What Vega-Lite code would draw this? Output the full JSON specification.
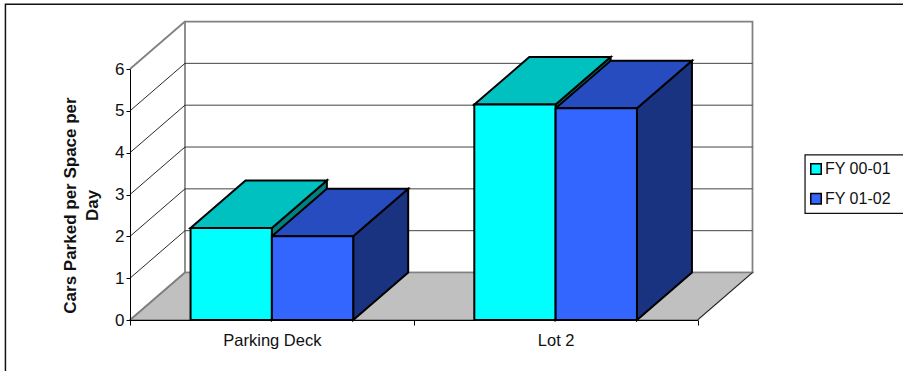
{
  "$schema": "https://vega.github.io/schema/vega-lite/v6.json",
  "width": 567.5,
  "height": 251,
  "padding": {"left": 130, "top": 69, "right": 205, "bottom": 51},
  "autosize": {"type": "none"},
  "background": "white",
  "config": {
    "view": {"stroke": null},
    "font": "Liberation Sans",
    "text": {"font": "Liberation Sans"}
  },
  "params": [
    {"name": "dx", "value": 0.1938},
    {"name": "dy", "value": 1.135}
  ],
  "datasets": {
    "bars": [
      {"category": "Parking Deck", "series": "FY 00-01", "value": 2.2},
      {"category": "Parking Deck", "series": "FY 01-02", "value": 2.0},
      {"category": "Lot 2", "series": "FY 00-01", "value": 5.15},
      {"category": "Lot 2", "series": "FY 01-02", "value": 5.06}
    ],
    "levels": [
      {"level": 0}, {"level": 1}, {"level": 2}, {"level": 3},
      {"level": 4}, {"level": 5}, {"level": 6}
    ],
    "depth": [{"t": 0}, {"t": 1}],
    "one": [{"id": 1}]
  },
  "data": {"name": "bars"},
  "transform": [
    {"calculate": "(datum.category === 'Lot 2' ? 1 : 0) + (datum.series === 'FY 00-01' ? 0.2134 : 0.5)", "as": "x0"},
    {"calculate": "datum.x0 + 0.2866", "as": "x1"},
    {"calculate": "datum.category + datum.series", "as": "bar"},
    {"calculate": "[0, 1]", "as": "t"},
    {"flatten": ["t"]},
    {"calculate": "datum.t * dx", "as": "ox"},
    {"calculate": "datum.t * dy", "as": "oy"},
    {"calculate": "datum.x0 + datum.ox", "as": "leftEdge"},
    {"calculate": "datum.x1 + datum.ox", "as": "rightEdge"},
    {"calculate": "datum.value + datum.oy", "as": "topEdge"}
  ],
  "layer": [
    {
      "description": "Chart-area frame; also declares the shared scales and axes",
      "data": {"name": "one"},
      "transform": [],
      "mark": {"type": "rect", "fill": "white", "stroke": "#111111", "strokeWidth": 1.5},
      "encoding": {
        "x": {
          "datum": -0.439, "type": "quantitative",
          "scale": {"domain": [0, 2], "nice": false},
          "axis": {
            "title": null,
            "values": [0, 0.5, 1, 1.5, 2],
            "grid": false,
            "zindex": 1,
            "domainColor": "#000000",
            "domainWidth": 1,
            "tickColor": "#000000",
            "tickWidth": 1,
            "tickSize": 5,
            "tickOpacity": {"expr": "datum.value === 0.5 || datum.value === 1.5 ? 0 : 1"},
            "labelExpr": "datum.value === 0.5 ? 'Parking Deck' : datum.value === 1.5 ? 'Lot 2' : ''",
            "labelFont": "Liberation Sans",
            "labelFontSize": 16.5,
            "labelColor": "#111111",
            "labelPadding": 7,
            "labelOverlap": false,
            "labelFlush": false
          }
        },
        "x2": {"datum": 3},
        "y": {
          "datum": 7.55, "type": "quantitative",
          "scale": {"domain": [0, 6], "nice": false},
          "axis": {
            "title": ["Cars Parked per Space per", "Day"],
            "titleFont": "Liberation Sans",
            "titleFontSize": 17,
            "titleFontWeight": "bold",
            "titleColor": "#111111",
            "titleLineHeight": 22,
            "titleX": -51,
            "titleY": 136,
            "values": [0, 1, 2, 3, 4, 5, 6],
            "grid": false,
            "zindex": 1,
            "domainColor": "#000000",
            "domainWidth": 1,
            "tickColor": "#000000",
            "tickWidth": 1,
            "tickSize": 4,
            "labelFont": "Liberation Sans",
            "labelFontSize": 17,
            "labelColor": "#111111",
            "labelPadding": 2
          }
        },
        "y2": {"datum": -3}
      }
    },
    {
      "description": "Legend box, running off the right of the chart area",
      "data": {"name": "one"},
      "transform": [],
      "mark": {"type": "rect", "fill": "white", "stroke": "#111111", "strokeWidth": 1.25},
      "encoding": {
        "x": {"datum": 2.379, "type": "quantitative"},
        "x2": {"datum": 3},
        "y": {"datum": 3.945, "type": "quantitative"},
        "y2": {"datum": 2.55}
      }
    },
    {
      "description": "Back wall",
      "data": {"name": "one"},
      "transform": [],
      "mark": {"type": "rect", "fill": "white", "stroke": "#808080", "strokeWidth": 1.75},
      "encoding": {
        "x": {"datum": 0.1938, "type": "quantitative"},
        "x2": {"datum": 2.1938},
        "y": {"datum": 1.135, "type": "quantitative"},
        "y2": {"datum": 7.135}
      }
    },
    {
      "description": "Back wall gridlines",
      "data": {"name": "levels"},
      "transform": [
        {"filter": "datum.level > 0 && datum.level < 6"},
        {"calculate": "datum.level + dy", "as": "wallY"}
      ],
      "mark": {"type": "rule", "stroke": "#444444", "strokeWidth": 1},
      "encoding": {
        "x": {"datum": 0.1938, "type": "quantitative"},
        "x2": {"datum": 2.1938},
        "y": {"field": "wallY", "type": "quantitative"}
      }
    },
    {
      "description": "Floor",
      "data": {"name": "depth"},
      "transform": [
        {"calculate": "datum.t * dx", "as": "fl"},
        {"calculate": "2 + datum.t * dx", "as": "fr"},
        {"calculate": "datum.t * dy", "as": "fy"}
      ],
      "mark": {"type": "area", "orient": "horizontal", "fill": "#c0c0c0", "stroke": "#808080", "strokeWidth": 1.5},
      "encoding": {
        "x": {"field": "fl", "type": "quantitative"},
        "x2": {"field": "fr"},
        "y": {"field": "fy", "type": "quantitative"}
      }
    },
    {
      "description": "Side wall lines running back from the value axis",
      "data": {"name": "levels"},
      "transform": [
        {"calculate": "datum.level + dy", "as": "wallY"}
      ],
      "mark": {"type": "rule"},
      "encoding": {
        "x": {"datum": 0, "type": "quantitative"},
        "x2": {"datum": 0.1938},
        "y": {"field": "level", "type": "quantitative"},
        "y2": {"field": "wallY"},
        "stroke": {"condition": {"test": "datum.level === 0 || datum.level === 6", "value": "#808080"}, "value": "#111111"},
        "strokeWidth": {"condition": {"test": "datum.level === 0 || datum.level === 6", "value": 1.75}, "value": 0.9}
      }
    },
    {
      "description": "Right edge of the floor",
      "data": {"name": "one"},
      "transform": [],
      "mark": {"type": "rule", "stroke": "#111111", "strokeWidth": 0.9},
      "encoding": {
        "x": {"datum": 2, "type": "quantitative"},
        "x2": {"datum": 2.1938},
        "y": {"datum": 0, "type": "quantitative"},
        "y2": {"datum": 1.135}
      }
    },
    {
      "description": "Bar sides",
      "mark": {"type": "area", "orient": "vertical", "stroke": "#000000", "strokeWidth": 2, "strokeJoin": "miter"},
      "encoding": {
        "x": {"field": "rightEdge", "type": "quantitative"},
        "y": {"field": "topEdge", "type": "quantitative"},
        "y2": {"field": "oy"},
        "detail": {"field": "bar"},
        "color": {
          "field": "series", "type": "nominal", "legend": null,
          "scale": {"domain": ["FY 00-01", "FY 01-02"], "range": ["#008080", "#1a3380"]}
        }
      }
    },
    {
      "description": "Bar tops",
      "mark": {"type": "area", "orient": "horizontal", "stroke": "#000000", "strokeWidth": 2, "strokeJoin": "miter"},
      "encoding": {
        "x": {"field": "leftEdge", "type": "quantitative"},
        "x2": {"field": "rightEdge"},
        "y": {"field": "topEdge", "type": "quantitative"},
        "detail": {"field": "bar"},
        "color": {
          "field": "series", "type": "nominal", "legend": null,
          "scale": {"domain": ["FY 00-01", "FY 01-02"], "range": ["#00c0c0", "#264cbf"]}
        }
      }
    },
    {
      "description": "Bar fronts, carrying the legend",
      "transform": [
        {"calculate": "(datum.category === 'Lot 2' ? 1 : 0) + (datum.series === 'FY 00-01' ? 0.2134 : 0.5)", "as": "x0"},
        {"calculate": "datum.x0 + 0.2866", "as": "x1"}
      ],
      "data": {"name": "bars"},
      "mark": {"type": "rect", "stroke": "#000000", "strokeWidth": 2},
      "encoding": {
        "x": {"field": "x0", "type": "quantitative"},
        "x2": {"field": "x1"},
        "y": {"field": "value", "type": "quantitative"},
        "y2": {"datum": 0},
        "color": {
          "field": "series", "type": "nominal",
          "scale": {"domain": ["FY 00-01", "FY 01-02"], "range": ["#00ffff", "#3366ff"]},
          "legend": {
            "title": null,
            "orient": "none",
            "legendX": 675,
            "legendY": 86,
            "padding": 6,
            "rowPadding": 11.8,
            "symbolType": "square",
            "symbolSize": 110,
            "symbolOffset": -3,
            "symbolStrokeColor": "#000000",
            "symbolStrokeWidth": 1.5,
            "labelFont": "Liberation Sans",
            "labelFontSize": 16,
            "labelColor": "#111111",
            "labelOffset": 1
          }
        }
      }
    }
  ],
  "resolve": {"scale": {"color": "independent"}}
}
